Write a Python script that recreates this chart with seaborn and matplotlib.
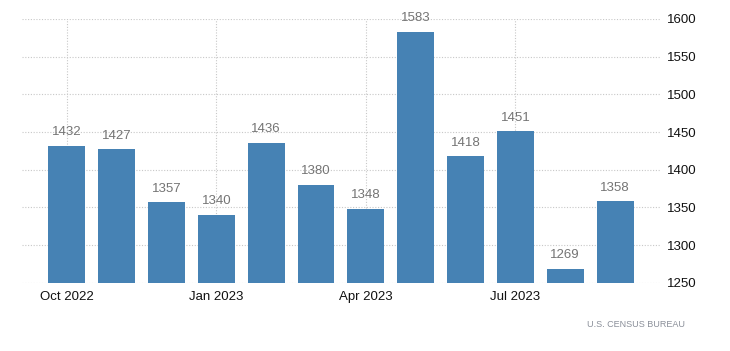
import pandas as pd
import matplotlib.pyplot as plt
import seaborn as sns

months = ["Oct 2022", "Nov 2022", "Dec 2022", "Jan 2023", "Feb 2023", "Mar 2023",
          "Apr 2023", "May 2023", "Jun 2023", "Jul 2023", "Aug 2023", "Sep 2023"]
values = [1432, 1427, 1357, 1340, 1436, 1380, 1348, 1583, 1418, 1451, 1269, 1358]
tick_labels = ["Oct 2022", "Jan 2023", "Apr 2023", "Jul 2023"]
y_ticks = [1250, 1300, 1350, 1400, 1450, 1500, 1550, 1600]

df = pd.DataFrame({"month": months, "value": values})

sns.set_style("white")
plt.rcParams["font.family"] = ["Liberation Sans", "DejaVu Sans"]

fig = plt.figure(figsize=(7.3, 3.51), dpi=100)
ax = fig.add_axes([0.030, 0.194, 0.874, 0.752])

sns.barplot(data=df, x="month", y="value", color="#4682b4", saturation=1,
            width=0.74, linewidth=0, ax=ax, zorder=3)

# value labels above bars
for i, v in enumerate(values):
    ax.text(i, v + 10, str(v), ha="center", va="bottom", fontsize=9.5, color="#747474")

ax.set_ylim(1250, 1600)
ax.set_xlim(-0.9, 11.9)
ax.set_yticks(y_ticks)
ax.yaxis.tick_right()
ax.tick_params(axis="y", length=0, pad=5, labelsize=9.5, labelcolor="#111111")

tick_pos = [months.index(t) for t in tick_labels]
ax.set_xticks(tick_pos)
ax.set_xticklabels(tick_labels)
ax.tick_params(axis="x", length=4, color="#cccccc", width=0.8, pad=2,
               labelsize=9.5, labelcolor="#111111")

ax.grid(True, axis="both", linestyle=(0, (1, 1.5)), color="#c8c8c8", linewidth=0.8, zorder=0)
ax.set_axisbelow(True)
for s in ax.spines.values():
    s.set_visible(False)
ax.set_xlabel("")
ax.set_ylabel("")

fig.text(0.939, 0.075, "U.S. CENSUS BUREAU", ha="right", va="center",
         fontsize=6.5, color="#8a8f99")

fig.savefig("out.png", dpi=100)
